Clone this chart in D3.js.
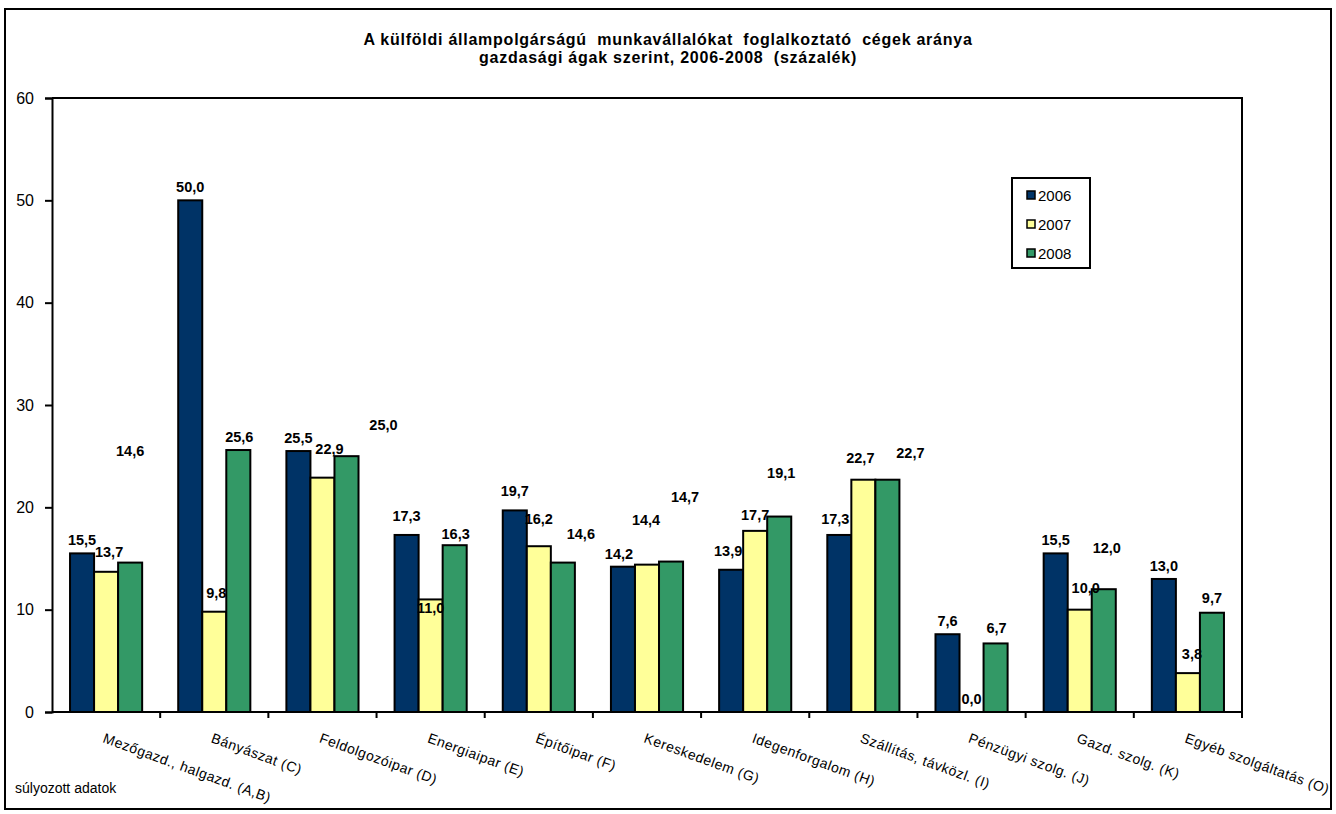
<!DOCTYPE html>
<html>
<head>
<meta charset="utf-8">
<script src="https://cdn.jsdelivr.net/npm/d3@7"></script>
<style>
  html, body { margin: 0; padding: 0; background: #fff; }
  svg { display: block; font-family: Arial, "Liberation Sans", sans-serif; }
</style>
</head>
<body>
<svg id="chart" width="1336" height="814"></svg>
<script>
// ---- data ----
const titleLines = [
  "A külföldi állampolgárságú  munkavállalókat  foglalkoztató  cégek aránya",
  "gazdasági ágak szerint, 2006-2008  (százalék)"
];
const categories = [
  "Mezőgazd., halgazd. (A,B)",
  "Bányászat (C)",
  "Feldolgozóipar (D)",
  "Energiaipar (E)",
  "Építőipar (F)",
  "Kereskedelem (G)",
  "Idegenforgalom (H)",
  "Szállítás, távközl. (I)",
  "Pénzügyi szolg. (J)",
  "Gazd. szolg. (K)",
  "Egyéb szolgáltatás (O)"
];
const seriesNames = ["2006", "2007", "2008"];
const values2006 = [15.5, 50.0, 25.5, 17.3, 19.7, 14.2, 13.9, 17.3, 7.6, 15.5, 13.0];
const values2007 = [13.7, 9.8, 22.9, 11.0, 16.2, 14.4, 17.7, 22.7, 0.0, 10.0, 3.8];
const values2008 = [14.6, 25.6, 25.0, 16.3, 14.6, 14.7, 19.1, 22.7, 6.7, 12.0, 9.7];
const yTicks = [0, 10, 20, 30, 40, 50, 60];
const footnote = "súlyozott adatok";

// manual label displacements (px) as in the original chart
const labelShift2006 = [[0,0],[0,0],[0,0],[0,-6],[0,-6],[-4,0],[-3,-6],[-4,-3],[0,0],[0,0],[0,0]];
const labelShift2007 = [[3,-7],[2,-6],[7,-16],[0,22],[0,-14],[-1,-32],[0,-3],[-3,-9],[0,0],[6,-9],[4,-6]];
const labelShift2008 = [[0,-99],[1,0],[37,-18],[1,2],[18,-16],[14,-52],[2,-31],[23,-14],[1,-2],[3,-28],[0,-2]];

const seriesValues = [values2006, values2007, values2008];
const seriesShifts = [labelShift2006, labelShift2007, labelShift2008];
const colors = ["#003366", "#FFFF99", "#339966"];

// ---- layout ----
const svg = d3.select("#chart");
const plot = { left: 52, right: 1242, top: 98, bottom: 712 };

// outer frame
svg.append("rect").attr("x", 5).attr("y", 9).attr("width", 1326).attr("height", 800)
  .attr("fill", "#fff").attr("stroke", "#000").attr("stroke-width", 2);

// title
svg.append("g").selectAll("text").data(titleLines).join("text")
  .attr("x", 668).attr("y", (d, i) => 45 + i * 18)
  .attr("text-anchor", "middle").attr("font-weight", "bold").attr("font-size", 16)
  .attr("letter-spacing", 0.75)
  .style("white-space", "pre").attr("xml:space", "preserve")
  .text(d => d);

const x0 = d3.scaleBand().domain(categories).range([plot.left, plot.right]).padding(0);
const bw = x0.bandwidth();
const x1 = d3.scaleBand().domain(seriesNames).range([bw / 6, bw * 5 / 6]).padding(0);
const y = d3.scaleLinear().domain([0, 60]).range([plot.bottom, plot.top]);

// plot border (top & right)
svg.append("path")
  .attr("d", `M${plot.left},${plot.top}H${plot.right}V${plot.bottom}`)
  .attr("fill", "none").attr("stroke", "#000").attr("stroke-width", 2);

// bars
const rows = categories.map((c, i) => ({ cat: c, i }));
const groups = svg.append("g").selectAll("g").data(rows).join("g")
  .attr("transform", d => `translate(${x0(d.cat)},0)`);

groups.selectAll("rect").data(d => seriesNames.map((s, k) => ({ s, k, v: seriesValues[k][d.i] })))
  .join("rect")
  .attr("x", d => x1(d.s))
  .attr("width", x1.bandwidth())
  .attr("y", d => y(d.v))
  .attr("height", d => y(0) - y(d.v))
  .attr("fill", d => colors[d.k])
  .attr("stroke", "#000").attr("stroke-width", d => d.v > 0 ? 2 : 0);

// value labels
const fmt = v => v.toFixed(1).replace(".", ",");
groups.selectAll("text.val").data(d => seriesNames.map((s, k) => ({ s, k, i: d.i, v: seriesValues[k][d.i] })))
  .join("text").attr("class", "val")
  .attr("x", d => x1(d.s) + x1.bandwidth() / 2 + seriesShifts[d.k][d.i][0])
  .attr("y", d => y(d.v) - 8 + seriesShifts[d.k][d.i][1])
  .attr("text-anchor", "middle").attr("font-weight", "bold").attr("font-size", 14.5)
  .text(d => fmt(d.v));

// y axis
const yAxis = svg.append("g").attr("transform", `translate(${plot.left},0)`)
  .call(d3.axisLeft(y).tickValues(yTicks).tickSize(7).tickPadding(11).tickFormat(d3.format("d")));
yAxis.select(".domain").attr("stroke", "#000").attr("stroke-width", 2);
yAxis.selectAll(".tick line").attr("stroke", "#000").attr("stroke-width", 2);
yAxis.selectAll(".tick text").attr("font-size", 16).attr("fill", "#000")
  .attr("font-family", "Arial, 'Liberation Sans', sans-serif");

// x axis (ticks at category boundaries)
const boundaries = categories.map(c => x0(c)).concat([plot.right]);
svg.append("line").attr("x1", plot.left).attr("x2", plot.right)
  .attr("y1", plot.bottom).attr("y2", plot.bottom)
  .attr("stroke", "#000").attr("stroke-width", 2);
svg.append("g").selectAll("line").data(boundaries.slice(1)).join("line")
  .attr("x1", d => d).attr("x2", d => d)
  .attr("y1", plot.bottom).attr("y2", plot.bottom + 6)
  .attr("stroke", "#000").attr("stroke-width", 2);

// x labels rotated
svg.append("g").selectAll("text").data(categories).join("text")
  .attr("transform", d => `translate(${x0(d) + bw / 2 - 4},742) rotate(20)`)
  .attr("font-size", 14).attr("letter-spacing", 0.5)
  .text(d => d);

// legend
const lg = svg.append("g");
lg.append("rect").attr("x", 1012).attr("y", 178).attr("width", 78).attr("height", 90)
  .attr("fill", "#fff").attr("stroke", "#000").attr("stroke-width", 2);
const li = lg.selectAll("g").data(seriesNames).join("g")
  .attr("transform", (d, i) => `translate(1027,${195 + i * 29})`);
li.append("rect").attr("x", 0).attr("y", -4).attr("width", 8).attr("height", 8)
  .attr("fill", (d, i) => colors[i]).attr("stroke", "#000").attr("stroke-width", 1.5);
li.append("text").attr("x", 11).attr("y", 5.5).attr("font-size", 15).text(d => d);

// footnote
svg.append("text").attr("x", 15).attr("y", 793).attr("font-size", 14).text(footnote);
</script>
</body>
</html>
